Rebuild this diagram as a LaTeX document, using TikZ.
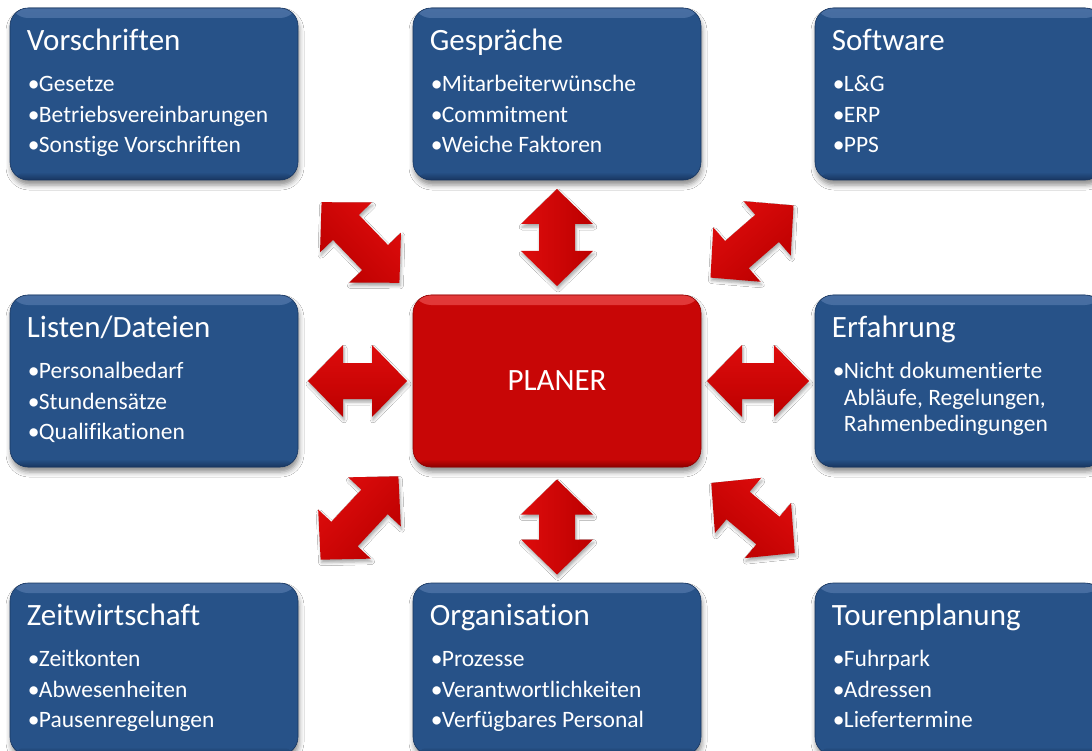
\documentclass[tikz,border=0pt]{standalone}
\usepackage{fontspec}
\setmainfont{Carlito}[Ligatures=NoCommon]
\usetikzlibrary{calc,shadows.blur}

\definecolor{boxblue}{RGB}{39,82,136}
\definecolor{boxblueHL}{RGB}{72,110,162}
\definecolor{boxblueDK}{RGB}{24,54,96}
\definecolor{planred}{RGB}{200,6,6}
\definecolor{planredHL}{RGB}{226,58,58}
\definecolor{planredDK}{RGB}{140,0,0}
\definecolor{arrowred}{RGB}{240,38,38}
\definecolor{arrowredHL}{RGB}{222,12,12}
\definecolor{arrowredDK}{RGB}{188,0,0}

\tikzset{
  panel/.style n args={3}{minimum width=288pt, minimum height=172pt, inner sep=0pt,
    rounded corners=18pt, fill=#1, draw=#3, line width=0.6pt,
    blur shadow={shadow xshift=1pt, shadow yshift=-5pt, shadow blur radius=5pt, shadow opacity=45},
    path picture={
      \shade[top color=#2, bottom color=#1] (path picture bounding box.north west)
        rectangle ([yshift=-10pt]path picture bounding box.north east);
      \shade[top color=#1, bottom color=#3] ([yshift=8pt]path picture bounding box.south west)
        rectangle (path picture bounding box.south east);
    }},
  bluebox/.style={panel={boxblue}{boxblueHL}{boxblueDK}},
  redbox/.style={panel={planred}{planredHL}{planredDK}, text=white,
    font=\fontsize{31}{31}\selectfont},
  ttl/.style={anchor=base west, inner sep=0pt, text=white, font=\fontsize{31}{31}\selectfont},
  itm/.style={anchor=base west, inner sep=0pt, text=white, font=\fontsize{23.5}{23.5}\selectfont},
  blockarrow/.style={top color=arrowredHL, middle color=arrowred, bottom color=arrowredDK,
    blur shadow={shadow xshift=1pt, shadow yshift=-3pt, shadow blur radius=3pt, shadow opacity=35}},
}

% panel: name, left x, top y, title
\newcommand\infopanel[4]{%
  \node[bluebox] (#1) at ({#2+144},{-#3-86}) {};
  \node[ttl] (#1-t) at ([shift={(17,-43)}]#1.north west) {#4};
}
% bullet line: panel name, line id, baseline offset, text
\newcommand\bulletline[4]{%
  \node[itm] (#1-#2) at ([shift={(18,-#3)}]#1.north west) {\makebox[11pt][l]{•}#4};
}
% continuation line of a bullet (hanging indent)
\newcommand\contline[4]{%
  \node[itm] (#1-#2) at ([shift={(29,-#3)}]#1.north west) {#4};
}
% double-headed block arrow: centre, angle, length
\newcommand\dblarrow[3]{%
  \begin{scope}[shift={#1}, rotate=#2]
    \shade[blockarrow, shading angle=#2]
      ({-#3/2},0) -- ({-#3/2+35},36) -- ({-#3/2+35},18) -- ({#3/2-35},18)
      -- ({#3/2-35},36) -- ({#3/2},0) -- ({#3/2-35},-36) -- ({#3/2-35},-18)
      -- ({-#3/2+35},-18) -- ({-#3/2+35},-36) -- cycle;
  \end{scope}
}

\begin{document}
\begin{tikzpicture}[x=1pt, y=1pt]
  \useasboundingbox (0,0) rectangle (1092,-751);
  \fill[white] (0,0) rectangle (1092,-751);

  % outer panels
  \infopanel{vor}{10}{8}{Vorschriften}
  \bulletline{vor}{1}{84}{Gesetze}
  \bulletline{vor}{2}{115}{Betriebsvereinbarungen}
  \bulletline{vor}{3}{145}{Sonstige Vorschriften}

  \infopanel{ges}{413}{8}{Gespräche}
  \bulletline{ges}{1}{84}{Mitarbeiterwünsche}
  \bulletline{ges}{2}{115}{Commitment}
  \bulletline{ges}{3}{145}{Weiche Faktoren}

  \infopanel{soft}{815}{8}{Software}
  \bulletline{soft}{1}{84}{L\&G}
  \bulletline{soft}{2}{115}{ERP}
  \bulletline{soft}{3}{145}{PPS}

  \infopanel{list}{10}{295}{Listen/Dateien}
  \bulletline{list}{1}{84}{Personalbedarf}
  \bulletline{list}{2}{115}{Stundensätze}
  \bulletline{list}{3}{145}{Qualifikationen}

  \infopanel{erf}{815}{295}{Erfahrung}
  \bulletline{erf}{1}{84}{Nicht dokumentierte}
  \contline{erf}{2}{111}{Abläufe, Regelungen,}
  \contline{erf}{3}{137}{Rahmenbedingungen}

  \infopanel{zeit}{10}{583}{Zeitwirtschaft}
  \bulletline{zeit}{1}{84}{Zeitkonten}
  \bulletline{zeit}{2}{115}{Abwesenheiten}
  \bulletline{zeit}{3}{145}{Pausenregelungen}

  \infopanel{org}{413}{583}{Organisation}
  \bulletline{org}{1}{84}{Prozesse}
  \bulletline{org}{2}{115}{Verantwortlichkeiten}
  \bulletline{org}{3}{145}{Verfügbares Personal}

  \infopanel{tour}{815}{583}{Tourenplanung}
  \bulletline{tour}{1}{84}{Fuhrpark}
  \bulletline{tour}{2}{115}{Adressen}
  \bulletline{tour}{3}{145}{Liefertermine}

  % central panel
  \node[redbox] (plan) at (557,-381) {PLANER};

  % connectors between the centre and the outer panels
  \dblarrow{($(ges.south)!0.5!(plan.north)$)}{90}{97}
  \dblarrow{($(org.north)!0.5!(plan.south)+(0,-2)$)}{90}{95}
  \dblarrow{($(list.east)!0.5!(plan.west)+(2,0)$)}{0}{99}
  \dblarrow{($(erf.west)!0.5!(plan.east)$)}{0}{102}
  \dblarrow{($(vor.south east)!0.5!(plan.north west)+(5,-5)$)}{-46}{112}
  \dblarrow{($(soft.south west)!0.5!(plan.north east)+(-6,-4)$)}{41}{110}
  \dblarrow{($(zeit.north east)!0.5!(plan.south west)+(4,7)$)}{47}{114}
  \dblarrow{($(tour.north west)!0.5!(plan.south east)+(-5,7)$)}{-40}{109}
\end{tikzpicture}
\end{document}
